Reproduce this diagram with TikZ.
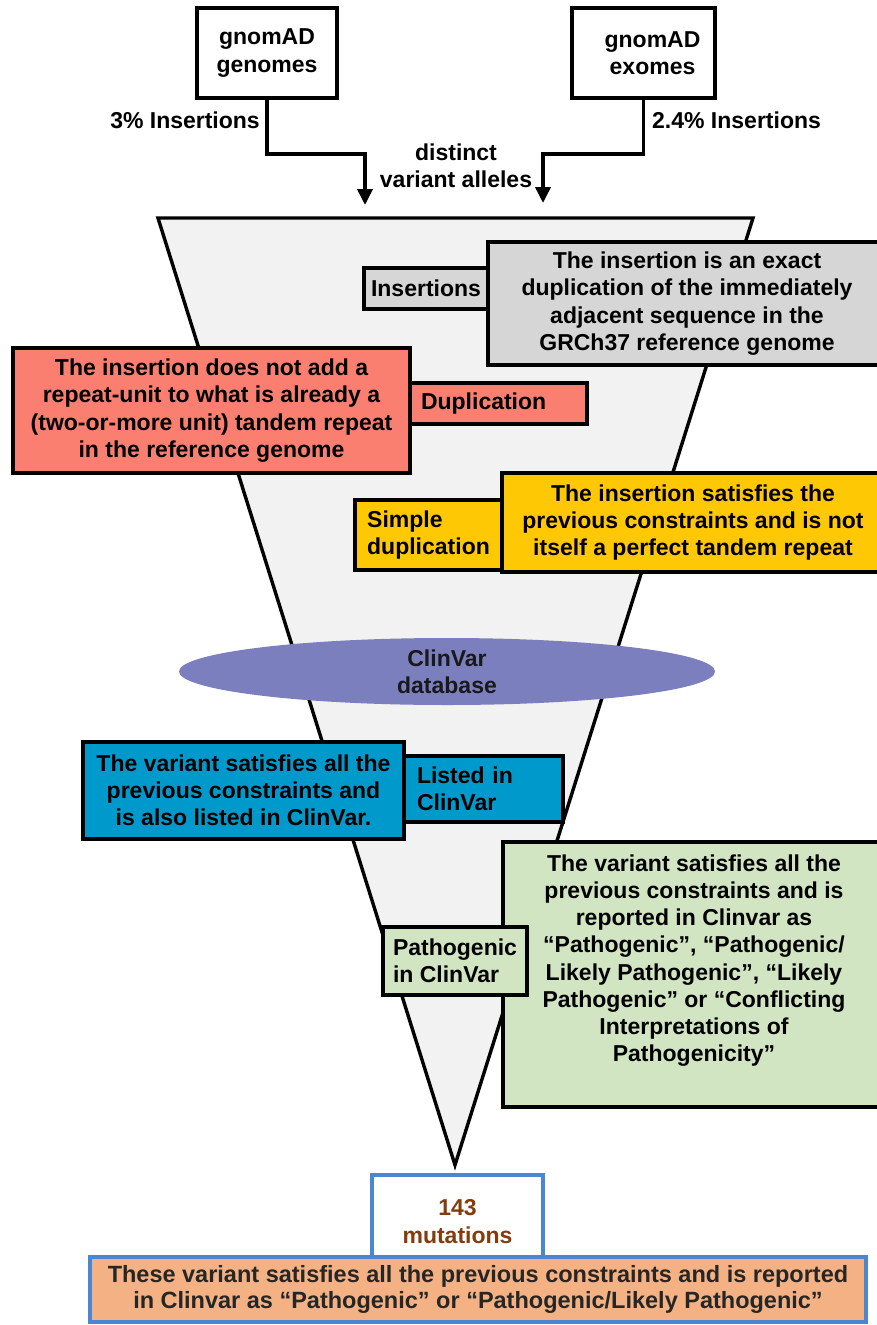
\documentclass[tikz,border=0pt]{standalone}
\usepackage{fontspec}
\setmainfont{Liberation Sans}
\usetikzlibrary{arrows.meta,shapes.geometric}
\definecolor{funnelgray}{HTML}{F2F2F2}
\definecolor{greybox}{HTML}{D6D6D6}
\definecolor{redbox}{HTML}{FA7F70}
\definecolor{yellowbox}{HTML}{FFC805}
\definecolor{clinblue}{HTML}{7C7FBE}
\definecolor{bluebox}{HTML}{0099CC}
\definecolor{greenbox}{HTML}{D2E5C3}
\definecolor{peach}{HTML}{F4B183}
\definecolor{bblue}{HTML}{4A86D4}
\definecolor{brownt}{HTML}{843C0C}
\definecolor{botgray}{HTML}{262626}
\newcommand{\shiftbox}[2]{\raisebox{#1}[\height][\depth]{\begin{tabular}{@{}c@{}}#2\end{tabular}}}
\tikzset{
  tfont/.style={font={\bfseries\fontsize{23}{27.2}\selectfont}},
  bfont/.style={font={\bfseries\fontsize{23.5}{25.5}\selectfont}},
  bx/.style={draw=black, line width=3.4pt, inner sep=0pt, rectangle},
  bbx/.style={draw=bblue, line width=3.2pt, inner sep=0pt, rectangle},
  conn/.style={draw=black, line width=3.6pt, -{Triangle[length=16pt,width=15pt]}},
}
\begin{document}
\begin{tikzpicture}[x=1pt,y=-1pt]
\useasboundingbox (0,0) rectangle (876,1325);

% sources
\node[bx, tfont, align=center, minimum width=140pt, minimum height=90pt] (gen) at (267,53) {gnomAD\\genomes};
\node[bx, tfont, align=center, minimum width=143pt, minimum height=90pt] (exo) at (643.5,53) {\hspace*{18pt}gnomAD\\\hspace*{18pt}exomes};
\coordinate (ar1) at (365,205);
\coordinate (ar2) at (543,203);
\draw[conn] (gen.south) -- ++(0,54) -| (ar1);
\draw[conn] (exo.south) -- ++(0,54) -| (ar2);
\node[tfont, anchor=east, inner sep=0pt] (l3) at (260,120) {3\% Insertions};
\node[tfont, anchor=west, inner sep=0pt] (l24) at (652,120) {2.4\% Insertions};
\node[tfont, align=center, inner sep=0pt] (dva) at (456,166) {distinct\\variant alleles};

% funnel
\coordinate (ftl) at (158,218);
\coordinate (ftr) at (753,218);
\coordinate (ftip) at (455,1165);
\draw[line width=3.4pt, fill=funnelgray] (ftl) -- (ftr) -- (ftip) -- cycle;

% ClinVar ellipse
\node[ellipse, fill=clinblue, tfont, align=center, inner sep=0pt, minimum width=536pt, minimum height=67pt, text=black!90] (cv) at (447,671.5) {ClinVar\\database};

% insertions
\node[bx, fill=greybox, tfont, align=center, minimum width=398pt, minimum height=123pt] (gdesc) at (687,303.5) {The insertion is an exact\\duplication of the immediately\\adjacent sequence in the\\GRCh37 reference genome};
\node[bx, fill=greybox, tfont, minimum width=124pt, minimum height=41pt] (ins) at (426,288.5) {Insertions};

% duplication
\node[bx, fill=redbox, tfont, align=center, minimum width=397pt, minimum height=125pt] (rdesc) at (211.5,410.5) {The insertion does not add a\\repeat-unit to what is already a\\(two-or-more unit) tandem repeat\\in the reference genome};
\node[bx, fill=redbox, tfont, text width=155pt, align=left, inner xsep=11pt, minimum height=41pt] (dup) at (498.5,403.5) {Duplication};

% simple duplication
\node[bx, fill=yellowbox, tfont, align=center, minimum width=382pt, minimum height=99pt] (ydesc) at (693,522.5) {The insertion satisfies the\\previous constraints and is not\\itself a perfect tandem repeat};
\node[bx, fill=yellowbox, tfont, align=left, minimum width=147pt, minimum height=70pt] (sdup) at (428.5,535) {Simple\\duplication};

% listed in clinvar
\node[bx, fill=bluebox, tfont, align=center, minimum width=321pt, minimum height=97pt] (bdesc) at (243.5,790.5) {The variant satisfies all the\\previous constraints and\\is also listed in ClinVar.};
\node[bx, fill=bluebox, tfont, text width=133pt, align=left, inner xsep=13pt, minimum height=66pt] (listed) at (483.5,789) {Listed in\\ClinVar};

% pathogenic
\node[bx, fill=greenbox, tfont, minimum width=382pt, minimum height=265pt] (gdesc2) at (694,974.5) {\shiftbox{13.5pt}{The variant satisfies all the\\previous constraints and is\\reported in Clinvar as\\“Pathogenic”, “Pathogenic/\\Likely Pathogenic”, “Likely\\Pathogenic” or “Conflicting\\Interpretations of\\Pathogenicity”}};
\node[bx, fill=greenbox, tfont, align=left, minimum width=144pt, minimum height=68pt] (patho) at (455,961) {Pathogenic\\in ClinVar};

% result
\node[bbx, fill=peach, bfont, align=center, text=botgray, minimum width=776pt, minimum height=65pt] (bot) at (478,1289.5) {These variant satisfies all the previous constraints and is reported\\in Clinvar as “Pathogenic” or “Pathogenic/Likely Pathogenic”};
\node[bbx, fill=white, tfont, text=brownt, minimum width=171pt, minimum height=82pt] (m143) at (457.5,1216) {\shiftbox{-8pt}{143\\mutations}};
\end{tikzpicture}
\end{document}
